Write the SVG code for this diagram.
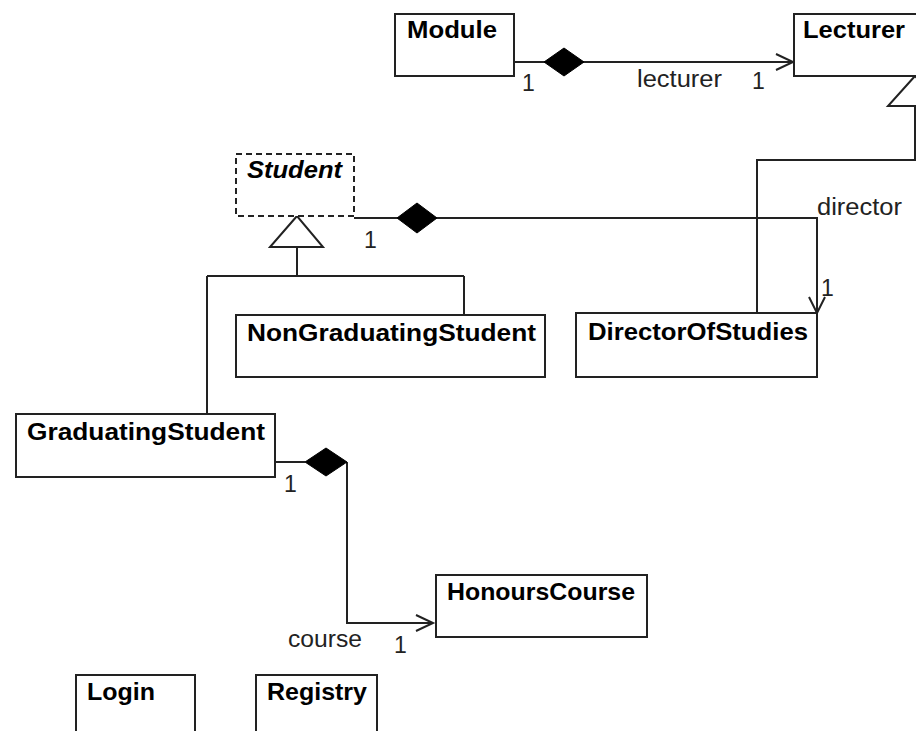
<svg xmlns="http://www.w3.org/2000/svg" width="916" height="731" viewBox="0 0 916 731">
<style>
.box{fill:#fff;stroke:#222;stroke-width:2}
.dash{stroke-dasharray:6 4}
.t{font-family:"Liberation Sans",Arial,sans-serif;font-weight:bold;font-size:24px;fill:#000}
.ti{font-style:italic}
.l{font-family:"Liberation Sans",Arial,sans-serif;font-size:23px;fill:#222}
.ln{fill:none;stroke:#222;stroke-width:2}
.dia{fill:#000;stroke:#000;stroke-width:1}
.tri{fill:#fff;stroke:#222;stroke-width:2}
</style>
<rect width="916" height="731" fill="#fff"/>
<g id="connectors">
  <path class="ln" d="M514,62 H793"/>
  <polygon class="dia" points="544,62 564,48 584,62 564,76"/>
  <path class="ln" d="M776,54 L793,62 L776,70"/>
  <path class="ln" d="M915,106 V160 H757 V313"/>
  <polygon class="tri" points="915,76 888,106 942,106"/>
  <path class="ln" d="M354,218 H817 V313"/>
  <polygon class="dia" points="397,218 417,203 437,218 417,233"/>
  <path class="ln" d="M809,297 L817,313 L825,297"/>
  <path class="ln" d="M297,247 V276 M207,276 H464 M207,276 V414 M464,276 V315"/>
  <polygon class="tri" points="297,216 270,247 323,247"/>
  <path class="ln" d="M275,462 H305 M347,462 V623 H433"/>
  <polygon class="dia" points="305,462 326,448 347,462 326,476"/>
  <path class="ln" d="M416,615 L433,623 L416,631"/>
  <text class="l" x="522" y="91">1</text>
  <text class="l" x="637" y="87" textLength="85" lengthAdjust="spacingAndGlyphs">lecturer</text>
  <text class="l" x="752" y="89">1</text>
  <text class="l" x="364" y="248">1</text>
  <text class="l" x="817" y="215" textLength="85" lengthAdjust="spacingAndGlyphs">director</text>
  <text class="l" x="821" y="296">1</text>
  <text class="l" x="284" y="492">1</text>
  <text class="l" x="288" y="647" textLength="74" lengthAdjust="spacingAndGlyphs">course</text>
  <text class="l" x="394" y="653">1</text>
</g>
<g id="Module">
  <rect class="box" x="395" y="14" width="119" height="62"/>
  <text class="t" x="407" y="38" textLength="90" lengthAdjust="spacingAndGlyphs">Module</text>
</g>
<g id="Lecturer">
  <rect class="box" x="794" y="14" width="242" height="62"/>
  <text class="t" x="803" y="38" textLength="102" lengthAdjust="spacingAndGlyphs">Lecturer</text>
</g>
<g id="Student">
  <rect class="box dash" x="236" y="154" width="118" height="62"/>
  <text class="t ti" x="247" y="178" textLength="95" lengthAdjust="spacingAndGlyphs">Student</text>
</g>
<g id="NonGraduatingStudent">
  <rect class="box" x="236" y="315" width="309" height="62"/>
  <text class="t" x="247" y="341" textLength="289" lengthAdjust="spacingAndGlyphs">NonGraduatingStudent</text>
</g>
<g id="DirectorOfStudies">
  <rect class="box" x="576" y="313" width="241" height="64"/>
  <text class="t" x="588" y="340" textLength="220" lengthAdjust="spacingAndGlyphs">DirectorOfStudies</text>
</g>
<g id="GraduatingStudent">
  <rect class="box" x="16" y="414" width="259" height="63"/>
  <text class="t" x="27" y="440" textLength="238" lengthAdjust="spacingAndGlyphs">GraduatingStudent</text>
</g>
<g id="HonoursCourse">
  <rect class="box" x="436" y="575" width="211" height="62"/>
  <text class="t" x="447" y="600" textLength="188" lengthAdjust="spacingAndGlyphs">HonoursCourse</text>
</g>
<g id="Login">
  <rect class="box" x="76" y="675" width="119" height="70"/>
  <text class="t" x="87" y="700" textLength="68" lengthAdjust="spacingAndGlyphs">Login</text>
</g>
<g id="Registry">
  <rect class="box" x="256" y="675" width="121" height="70"/>
  <text class="t" x="267" y="700" textLength="100" lengthAdjust="spacingAndGlyphs">Registry</text>
</g>
</svg>
